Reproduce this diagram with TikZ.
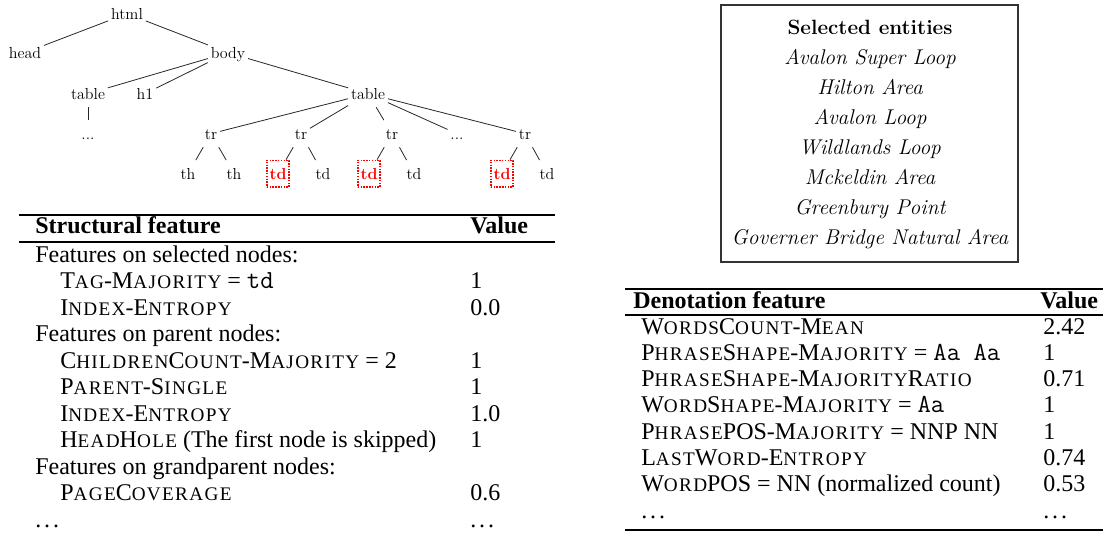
\documentclass[tikz,border=0pt]{standalone}
\usepackage{fontspec}
\newfontfamily\tms{Liberation Serif}
\newfontfamily\tmssc{Liberation Serif}[LetterSpace=7]
\newcommand\SC[1]{{\tmssc\fontsize{14.4}{15}\selectfont\MakeUppercase{#1}}}
\newcommand\mono[1]{{\ttfamily\fontsize{19.5}{20}\selectfont #1}}
\newcommand\dotz{.\kern0.12em.\kern0.12em.}
\tikzset{
  tn/.style={font=\fontsize{12}{14}\selectfont, text height=8pt, text depth=0pt,
    inner xsep=2pt, inner ysep=6pt, anchor=base},
  tdsel/.style={tn, draw=red, densely dotted, line width=1.1pt, text=red,
    font=\fontsize{12}{14}\selectfont\bfseries},
  tedge/.style={line width=0.6pt, draw=black!85},
  lt/.style={font=\tms\fontsize{18}{20}\selectfont, anchor=base west, inner sep=0pt},
  lth/.style={font=\tms\bfseries\fontsize{18}{20}\selectfont, anchor=base west, inner sep=0pt},
  heavyrule/.style={line width=1.3pt},
  lightrule/.style={line width=0.8pt},
  ent/.style={font=\fontsize{16}{18}\selectfont\itshape, anchor=base, inner sep=0pt},
  enthead/.style={font=\fontsize{15.5}{18}\selectfont\bfseries, anchor=base, inner sep=0pt},
}
\begin{document}
\begin{tikzpicture}[x=0.75pt, y=-0.75pt]
\useasboundingbox (0,0) rectangle (1105,532);

% ---------------- tree ----------------
\node[tn] (html) at (127,19) {html};
\node[tn] (head) at (25,58) {head};
\node[tn] (body) at (228,58) {body};
\node[tn] (tableL) at (88,99) {table};
\node[tn] (h1) at (145,99) {h1};
\node[tn] (tableR) at (368,99) {table};
\node[tn] (dotsL) at (88,139) {...};
\node[tn] (tr1) at (211,139) {tr};
\node[tn] (tr2) at (301,139) {tr};
\node[tn] (tr3) at (392,139) {tr};
\node[tn] (dotsR) at (457,139) {...};
\node[tn] (tr5) at (525,139) {tr};
\node[tn] (th1) at (188,179) {th};
\node[tn] (th2) at (234,179) {th};
\node[tdsel] (tds1) at (278,179) {td};
\node[tn] (td1) at (323,179) {td};
\node[tdsel] (tds2) at (369,179) {td};
\node[tn] (td2) at (414,179) {td};
\node[tdsel] (tds3) at (502,179) {td};
\node[tn] (td3) at (547,179) {td};

\draw[tedge] (html) -- (head);
\draw[tedge] (html) -- (body);
\draw[tedge] (body) -- (tableL);
\draw[tedge] (body) -- (h1);
\draw[tedge] (body) -- (tableR);
\draw[tedge] (tableL) -- (dotsL);
\draw[tedge] (tableR) -- (tr1);
\draw[tedge] (tableR) -- (tr2);
\draw[tedge] (tableR) -- (tr3);
\draw[tedge] (tableR) -- (dotsR);
\draw[tedge] (tableR) -- (tr5);
\draw[tedge] (tr1) -- (th1);
\draw[tedge] (tr1) -- (th2);
\draw[tedge] (tr2) -- (tds1);
\draw[tedge] (tr2) -- (td1);
\draw[tedge] (tr3) -- (tds2);
\draw[tedge] (tr3) -- (td2);
\draw[tedge] (tr5) -- (tds3);
\draw[tedge] (tr5) -- (td3);

% ---------------- structural table ----------------
\draw[heavyrule] (19,215) -- (555,215);
\node[lth] (sh) at (35,233) {Structural feature};
\node[lth] (svh) at (470,233) {Value};
\draw[lightrule] (19,242) -- (555,242);

\node[lt] (s0) at (35,262) {Features on selected nodes:};
\node[lt] (s1) at (60,288.5) {T\SC{ag}-M\SC{ajority} = \mono{td}};
\node[lt] (v1) at (470,288.5) {1};
\node[lt] (s2) at (60,315) {I\SC{ndex}-E\SC{ntropy}};
\node[lt] (v2) at (470,315) {0.0};
\node[lt] (s3) at (35,341.5) {Features on parent nodes:};
\node[lt] (s4) at (60,368) {C\SC{hildren}C\SC{ount}-M\SC{ajority} = 2};
\node[lt] (v4) at (470,368) {1};
\node[lt] (s5) at (60,394.5) {P\SC{arent}-S\SC{ingle}};
\node[lt] (v5) at (470,394.5) {1};
\node[lt] (s6) at (60,421) {I\SC{ndex}-E\SC{ntropy}};
\node[lt] (v6) at (470,421) {1.0};
\node[lt] (s7) at (60,447.5) {H\SC{ead}H\SC{ole} (The first node is skipped)};
\node[lt] (v7) at (470,447.5) {1};
\node[lt] (s8) at (35,474) {Features on grandparent nodes:};
\node[lt] (s9) at (60,500.5) {P\SC{age}C\SC{overage}};
\node[lt] (v9) at (470,500.5) {0.6};
\node[lt] (s10) at (35,527) {\dotz};
\node[lt] (v10) at (470,527) {\dotz};

% ---------------- entity box ----------------
\draw[line width=0.8pt, black!80] (721,5) rectangle (1018,262);
\node[enthead] (eh) at (870,34) {Selected entities};
\node[ent] (e1) at (870,64) {Avalon Super Loop};
\node[ent] (e2) at (870,94) {Hilton Area};
\node[ent] (e3) at (870,124) {Avalon Loop};
\node[ent] (e4) at (870,154) {Wildlands Loop};
\node[ent] (e5) at (870,184) {Mckeldin Area};
\node[ent] (e6) at (870,214) {Greenbury Point};
\node[ent] (e7) at (870,244) {Governer Bridge Natural Area};

% ---------------- denotation table ----------------
\draw[heavyrule] (625,289) -- (1103,289);
\node[lth] (dh) at (633,308) {Denotation feature};
\node[lth] (dvh) at (1040,308) {Value};
\draw[lightrule] (625,315) -- (1103,315);

\node[lt] (d1) at (641,334) {W\SC{ords}C\SC{ount}-M\SC{ean}};
\node[lt] (w1) at (1043,334) {2.42};
\node[lt] (d2) at (641,360.3) {P\SC{hrase}S\SC{hape}-M\SC{ajority} = \mono{Aa Aa}};
\node[lt] (w2) at (1043,360.3) {1};
\node[lt] (d3) at (641,386.6) {P\SC{hrase}S\SC{hape}-M\SC{ajority}R\SC{atio}};
\node[lt] (w3) at (1043,386.6) {0.71};
\node[lt] (d4) at (641,412.9) {W\SC{ord}S\SC{hape}-M\SC{ajority} = \mono{Aa}};
\node[lt] (w4) at (1043,412.9) {1};
\node[lt] (d5) at (641,439.2) {P\SC{hrase}POS-M\SC{ajority} = NNP NN};
\node[lt] (w5) at (1043,439.2) {1};
\node[lt] (d6) at (641,465.5) {L\SC{ast}W\SC{ord}-E\SC{ntropy}};
\node[lt] (w6) at (1043,465.5) {0.74};
\node[lt] (d7) at (641,491.8) {W\SC{ord}POS = NN (normalized count)};
\node[lt] (w7) at (1043,491.8) {0.53};
\node[lt] (d8) at (641,518) {\dotz};
\node[lt] (w8) at (1043,518) {\dotz};
\draw[heavyrule] (625,530) -- (1103,530);
\end{tikzpicture}
\end{document}
